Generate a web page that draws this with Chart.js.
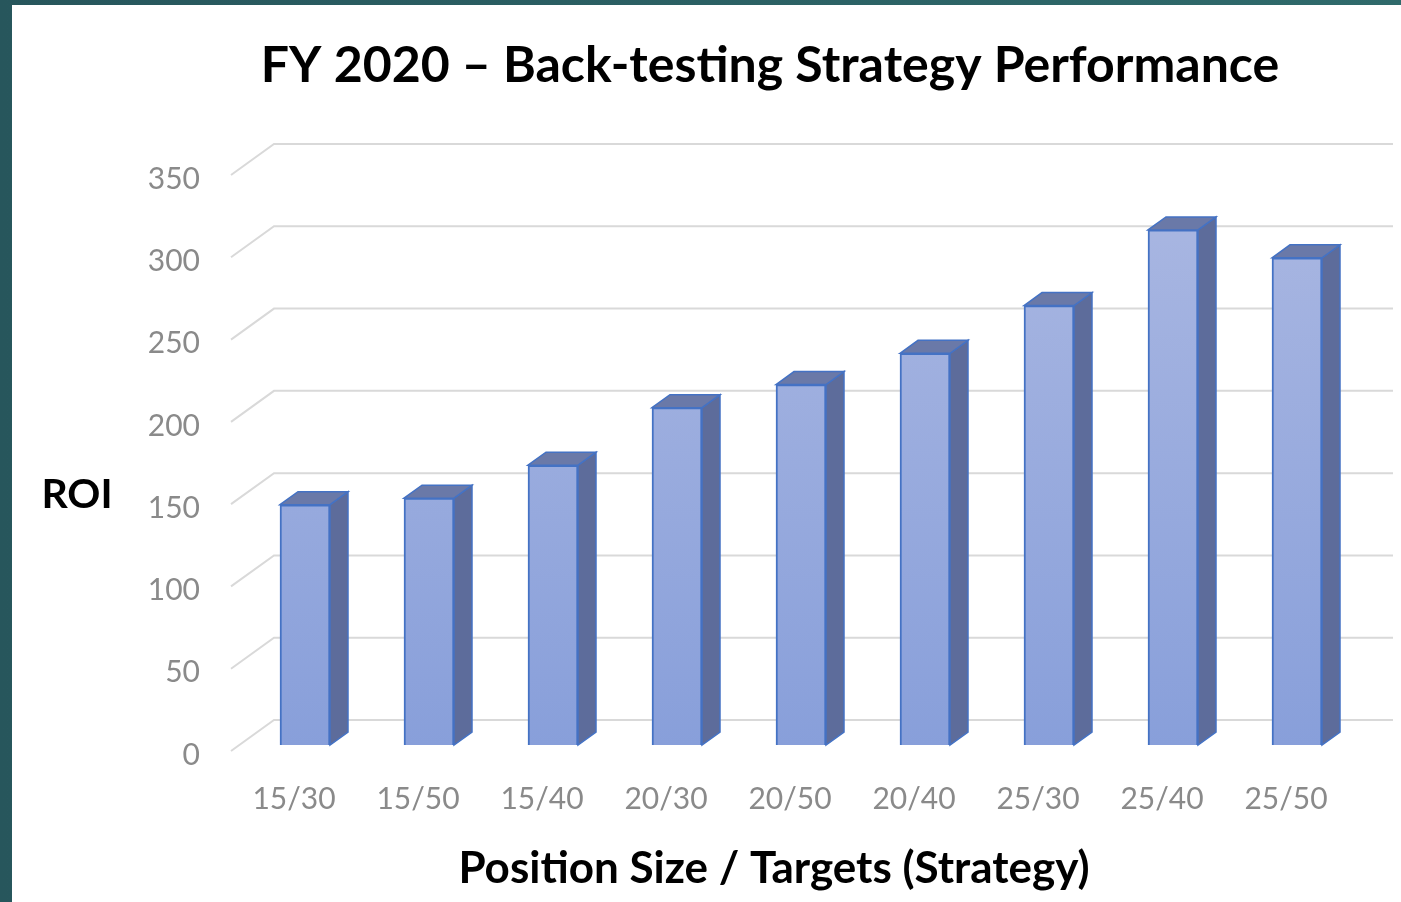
<!DOCTYPE html>
<html>
<head>
<meta charset="utf-8">
<script src="https://cdn.jsdelivr.net/npm/chart.js@4"></script>
<style>
	html, body { margin: 0; padding: 0; }
	body { width: 1401px; height: 902px; overflow: hidden; position: relative; background: linear-gradient(90deg, #27565c, #2f6a6b); }
	#wrap { position: absolute; left: 12px; top: 5px; width: 1389px; height: 897px; background: #fff; }
</style>
</head>
<body>
<div id="wrap"><canvas id="myChart"></canvas></div>
<script>
const ctx = document.getElementById('myChart');

const strategies = ['15/30', '15/50', '15/40', '20/30', '20/50', '20/40', '25/30', '25/40', '25/50'];
const roi = [146, 150, 170, 205, 219, 238, 267, 313, 296];
const yMin = 0;
const yMax = 350;
const yStep = 50;

const chartTitle = 'FY 2020 – Back-testing Strategy Performance';
const xTitle = 'Position Size / Targets (Strategy)';
const yTitle = 'ROI';

const gray = '#8a8a8a';
const edge = '#4472c4';
const font = 'Lato, "Open Sans", sans-serif';

// depth of the 3d look
const bar3d = { dx: 18, dy: 13 };
const wall = { dx: 31, dy: 25, front: 12, frontDy: 6 };

const frontFill = (c) => {
	const area = c.chart.chartArea;
	if (!area) return '#99abdc';
	const g = c.chart.ctx.createLinearGradient(0, area.top, 0, area.bottom);
	g.addColorStop(0, '#abb8e2');
	g.addColorStop(1, '#889fda');
	return g;
};

const wallGrid = {
	id: 'wallGrid',
	beforeDatasetsDraw(chart) {
		const { ctx, chartArea, scales } = chart;
		ctx.save();
		ctx.strokeStyle = '#d9d9d9';
		ctx.lineWidth = 2;
		scales.y.ticks.forEach((t) => {
			const py = scales.y.getPixelForValue(t.value);
			ctx.beginPath();
			ctx.moveTo(chartArea.left - wall.front, py + wall.frontDy);
			ctx.lineTo(chartArea.left + wall.dx, py - wall.dy);
			ctx.lineTo(chartArea.right + 34, py - wall.dy);
			ctx.stroke();
		});
		ctx.restore();
	},
};

const boxes = {
	id: 'boxes',
	afterDatasetsDraw(chart) {
		const { ctx } = chart;
		ctx.save();
		ctx.lineWidth = 1.5;
		ctx.strokeStyle = edge;
		chart.getDatasetMeta(0).data.forEach((bar) => {
			const { x, y, base, width } = bar.getProps(['x', 'y', 'base', 'width'], true);
			const l = x - width / 2;
			const r = x + width / 2;
			// side
			ctx.beginPath();
			ctx.moveTo(r, y);
			ctx.lineTo(r + bar3d.dx, y - bar3d.dy);
			ctx.lineTo(r + bar3d.dx, base - bar3d.dy);
			ctx.lineTo(r, base);
			ctx.closePath();
			ctx.fillStyle = '#5d6c9b';
			ctx.fill();
			ctx.stroke();
			// top
			ctx.beginPath();
			ctx.moveTo(l, y);
			ctx.lineTo(l + bar3d.dx, y - bar3d.dy);
			ctx.lineTo(r + bar3d.dx, y - bar3d.dy);
			ctx.lineTo(r, y);
			ctx.closePath();
			ctx.fillStyle = '#6a79a8';
			ctx.fill();
			ctx.stroke();
		});
		ctx.restore();
	},
};

// titles are placed by hand, the chart's own title centres on the wrong box
const titles = {
	id: 'titles',
	afterDraw(chart) {
		const { ctx } = chart;
		ctx.save();
		ctx.fillStyle = '#000';
		ctx.textAlign = 'center';
		ctx.textBaseline = 'middle';
		ctx.font = 'bold 50px ' + font;
		ctx.fillText(chartTitle, 758, 61);
		ctx.font = 'bold 44px ' + font;
		ctx.fillText(xTitle, 762, 864);
		ctx.font = 'bold 41px ' + font;
		ctx.fillText(yTitle, 65, 490);
		ctx.restore();
	},
};

new Chart(ctx, {
	type: 'bar',
	data: {
		labels: strategies,
		datasets: [
			{
				data: roi,
				backgroundColor: frontFill,
				borderColor: edge,
				borderWidth: 2,
				barThickness: 50,
			},
		],
	},
	options: {
		responsive: true,
		maintainAspectRatio: false,
		animation: false,
		layout: { padding: { left: 0, right: 42, top: 164, bottom: 0 } },
		plugins: {
			legend: { display: false },
			tooltip: false,
			title: { display: false },
		},
		scales: {
			x: {
				grid: { display: false, drawTicks: false },
				border: { display: false },
				ticks: { color: gray, font: { family: font, size: 30 }, padding: 36, labelOffset: -11, maxRotation: 0 },
				afterFit: (s) => { s.height = 157; },
			},
			y: {
				min: yMin,
				max: yMax,
				grid: { display: false, drawTicks: false },
				border: { display: false },
				ticks: { stepSize: yStep, color: gray, font: { family: font, size: 30 }, padding: 43, labelOffset: 10 },
				afterFit: (s) => { s.width = 231; },
			},
		},
	},
	plugins: [wallGrid, boxes, titles],
});
</script>
</body>
</html>
